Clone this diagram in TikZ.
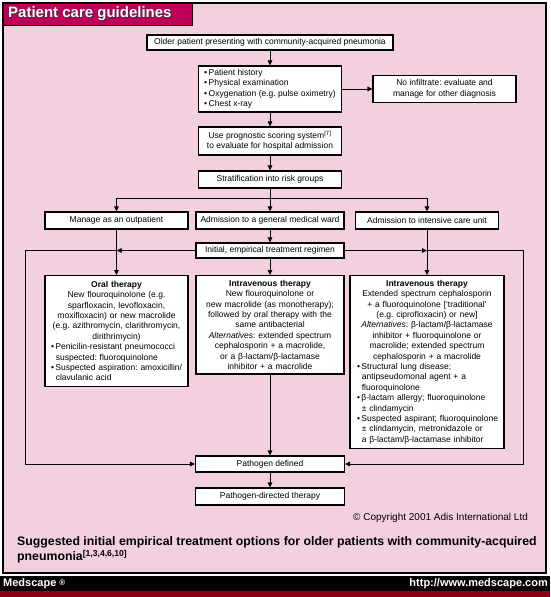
\documentclass[tikz,border=0pt]{standalone}
\usepackage{fontspec}
\setmainfont{Liberation Sans}
\usetikzlibrary{arrows.meta}
\definecolor{pinkbg}{RGB}{243,208,224}
\definecolor{hdr}{RGB}{190,0,90}
\definecolor{stripred}{RGB}{140,0,25}
\setlength{\parindent}{0pt}
\frenchspacing
\newcommand\bulx{\textbullet\hspace{1.5pt}}
\newcommand\indx{\hspace*{4.8pt}}
\tikzset{
  box/.style={draw=black, line width=1.1pt, fill=white, inner sep=0pt,
    font=\fontsize{8.5}{10.4}\selectfont, align=center},
  tbox/.style={draw=black, line width=1.1pt, fill=white, inner xsep=3pt,
    inner ysep=4.5pt, anchor=north, font=\fontsize{8.5}{10.4}\selectfont},
  conn/.style={line width=1pt},
  arr/.style={conn, -{Triangle[length=5pt,width=4.5pt]}},
  foot/.style={text=white, inner sep=0pt, font=\bfseries\fontsize{11}{11}\selectfont},
}
\begin{document}
\begin{tikzpicture}[x=1pt,y=-1pt]
\useasboundingbox (0,0) rectangle (550,597);
\fill[white] (0,0) rectangle (550,597);
\draw[fill=pinkbg, line width=1.2pt] (3,3) rectangle (546,573);
\node[draw, line width=1.2pt, fill=hdr, minimum width=189pt, minimum height=22pt,
  anchor=north west, inner sep=0pt] (hdrbox) at (3,3) {};
\node[anchor=west, inner sep=0pt, text=black!80, font=\bfseries\fontsize{15}{15}\selectfont] (hdrshadow) at (9,15) {Patient care guidelines};
\node[anchor=west, inner sep=0pt, text=white, font=\bfseries\fontsize{15}{15}\selectfont] (hdrtext) at (8,14) {Patient care guidelines};

% nodes
\node[box, minimum width=246pt, minimum height=15pt] (older) at (270,42.5)
  {Older patient presenting with community-acquired pneumonia};
\node[box, minimum width=143pt, minimum height=46pt, align=left] (hist) at (270,89)
  {\bulx Patient history\\ \bulx Physical examination\\ \bulx Oxygenation (e.g. pulse oximetry)\\ \bulx Chest x-ray};
\node[box, minimum width=143pt, minimum height=27pt] (noinf) at (444.5,89)
  {No infiltrate: evaluate and\\manage for other diagnosis};
\node[box, minimum width=143pt, minimum height=28pt] (prog) at (270,141)
  {Use prognostic scoring system\textsuperscript{[7]}\\to evaluate for hospital admission};
\node[box, minimum width=143pt, minimum height=17pt] (strat) at (270,179.5)
  {Stratification into risk groups};
\node[box, minimum width=143pt, minimum height=17pt] (outp) at (116.5,220.5)
  {Manage as an outpatient};
\node[box, minimum width=148pt, minimum height=17pt] (ward) at (270,220.5)
  {Admission to a general medical ward};
\node[box, minimum width=143pt, minimum height=17pt] (icu) at (427,220.5)
  {Admission to intensive care unit};
\node[box, minimum width=148pt, minimum height=15pt] (init) at (270,250.5)
  {Initial, empirical treatment regimen};

\node[tbox, text width=137pt, inner ysep=5.5pt] (oral) at (116.5,275)
  {\centering\textbf{Oral therapy}\\
   New flouroquinolone (e.g.\\
   sparfloxacin, levofloxacin,\\
   moxifloxacin) or new macrolide\\
   (e.g. azithromycin, clarithromycin,\\
   dirithrimycin)\par
   \raggedright
   \hspace*{3pt}\bulx Penicilin-resistant pneumococci\\
   \hspace*{3pt}\indx suspected: fluoroquinolone\\
   \hspace*{3pt}\bulx Suspected aspiration: amoxicillin/\\
   \hspace*{3pt}\indx clavulanic acid\par};
\node[tbox, text width=142pt] (ivm) at (270,275)
  {\centering\textbf{Intravenous therapy}\\
   New flouroquinolone or\\
   new macrolide (as monotherapy);\\
   followed by oral therapy with the\\
   same antibacterial\\
   \textit{Alternatives}: extended spectrum\\
   cephalosporin + a macrolide,\\
   or a β-lactam/β-lactamase\\
   inhibitor + a macrolide\par};
\node[tbox, text width=148pt] (ivr) at (427,275)
  {\centering\textbf{Intravenous therapy}\\
   Extended spectrum cephalosporin\\
   + a fluoroquinolone [‘traditional’\\
   (e.g. ciprofloxacin) or new]\\
   \textit{Alternatives}: β-lactam/β-lactamase\\
   inhibitor + fluoroquinolone or\\
   macrolide; extended spectrum\\
   cephalosporin + a macrolide\par
   \raggedright
   \hspace*{4pt}\bulx Structural lung disease;\\
   \hspace*{4pt}\indx antipseudomonal agent + a\\
   \hspace*{4pt}\indx fluoroquinolone\\
   \hspace*{4pt}\bulx β-lactam allergy; fluoroquinolone\\
   \hspace*{4pt}\indx ± clindamycin\\
   \hspace*{4pt}\bulx Suspected aspirant; fluoroquinolone\\
   \hspace*{4pt}\indx ± clindamycin, metronidazole or\\
   \hspace*{4pt}\indx a β-lactam/β-lactamase inhibitor\par};

\node[box, minimum width=149pt, minimum height=16pt] (pdef) at (270,464)
  {Pathogen defined};
\node[box, minimum width=149pt, minimum height=17pt] (pdir) at (270,496.5)
  {Pathogen-directed therapy};

% connectors
\coordinate (br) at (270,198);
\coordinate (lt) at (25,250.5);
\coordinate (lb) at (25,464);
\coordinate (rt) at (523,250.5);
\coordinate (rb) at (523,464);
\draw[arr] (older) -- (hist);
\draw[arr] (hist) -- (noinf);
\draw[arr] (hist) -- (prog);
\draw[arr] (prog) -- (strat);
\draw[conn] (strat) -- (br);
\draw[conn] (br -| outp) -- (br -| icu);
\draw[arr] (br -| outp) -- (outp);
\draw[arr] (br) -- (ward);
\draw[arr] (br -| icu) -- (icu);
\draw[arr] (ward) -- (init);
\draw[arr] (outp) -- (oral);
\draw[arr] (init) -- (ivm);
\draw[arr] (icu) -- (ivr);
\draw[arr] (init.west) -- (init.west -| outp);
\draw[arr] (init.west -| outp) -- (lt) -- (lb) -- (pdef.west);
\draw[arr] (init.east) -- (init.east -| icu);
\draw[arr] (init.east -| icu) -- (rt) -- (rb) -- (pdef.east);
\draw[arr] (ivm) -- (pdef);
\draw[arr] (pdef) -- (pdir);

% texts
\node[anchor=west, inner sep=0pt, font=\fontsize{10}{11}\selectfont] (copy) at (353,518)
  {© Copyright 2001 Adis International Ltd};
\node[anchor=north west, align=left, inner sep=0pt, font=\bfseries\fontsize{12.3}{13.8}\selectfont] (cap) at (17,536)
  {Suggested initial empirical treatment options for older patients with community-acquired\\[1.5pt]
   pneumonia\textsuperscript{[1,3,4,6,10]}};

% footer
\fill[black] (0,576) rectangle (550,591);
\fill[stripred] (0,591) rectangle (550,597);
\node[foot, anchor=west] (ms) at (3,583.5) {Medscape {\fontsize{8}{8}\selectfont\raisebox{1pt}{®}}};
\node[foot, anchor=east] (url) at (548,583.5) {http://www.medscape.com};
\end{tikzpicture}
\end{document}
